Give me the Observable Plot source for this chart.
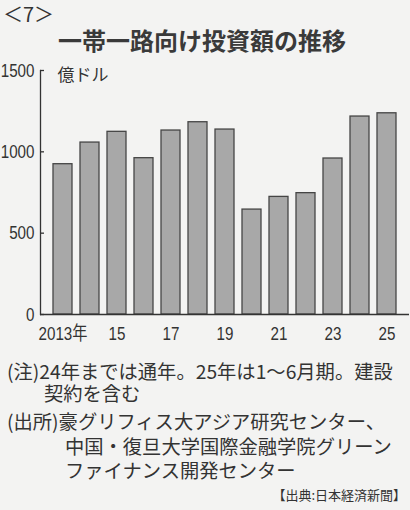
<!DOCTYPE html>
<html>
<head>
<meta charset="utf-8">
<script src="https://cdn.jsdelivr.net/npm/d3@7"></script>
<script src="https://cdn.jsdelivr.net/npm/@observablehq/plot@0.6"></script>
<style>
  html, body { margin: 0; padding: 0; }
  body { width: 410px; height: 510px; background: #f3f3f2; position: relative; overflow: hidden;
         font-family: "Noto Sans CJK JP", "Noto Sans", sans-serif; color: #333; }
  .abs { position: absolute; white-space: nowrap; }
  #num { left: 3px; top: 4px; font-size: 20px; line-height: 20px; }
  #title { left: 58px; top: 28px; font-size: 24px; line-height: 24px; font-weight: 700; color: #3a3a3a; }
  #chart { left: 0; top: 60px; }
  .note { font-size: 19.3px; left: 7px; }
  #note1 { top: 360px; line-height: 22px; padding-left: 37px; text-indent: -37px; }
  #note2 { top: 409px; line-height: 24.5px; padding-left: 58px; text-indent: -58px; }
  #credit { right: 4px; top: 488px; font-size: 13px; line-height: 13px; }
</style>
</head>
<body>
<div id="num" class="abs">＜7＞</div>
<div id="title" class="abs"></div>
<div id="chart" class="abs"></div>
<div id="note1" class="abs note"></div>
<div id="note2" class="abs note"></div>
<div id="credit" class="abs"></div>
<script>
// ---- data ----
const years = [2013, 2014, 2015, 2016, 2017, 2018, 2019, 2020, 2021, 2022, 2023, 2024, 2025];
const values = [924, 1057, 1123, 961, 1131, 1182, 1137, 645, 723, 746, 959, 1217, 1237];
const xTickYears = [2013, 2015, 2017, 2019, 2021, 2023, 2025];
const xTickLabels = ["2013年", "15", "17", "19", "21", "23", "25"];
const yTicks = [0, 500, 1000, 1500];
const yTickLabels = ["0", "500", "1000", "1500"];
const unitLabel = "億ドル";
const titleText = "一帯一路向け投資額の推移";
const noteLines = ["(注)24年までは通年。25年は1～6月期。建設", "契約を含む"];
const sourceLines = ["(出所)豪グリフィス大アジア研究センター、", "中国・復旦大学国際金融学院グリーン", "ファイナンス開発センター"];
const creditText = "【出典:日本経済新聞】";

document.getElementById("title").textContent = titleText;
document.getElementById("credit").textContent = creditText;

function fillLines(el, lines) {
  lines.forEach((t, i) => {
    if (i > 0) el.appendChild(document.createElement("br"));
    el.appendChild(document.createTextNode(t));
  });
}
fillLines(document.getElementById("note1"), noteLines);
fillLines(document.getElementById("note2"), sourceLines);

const data = years.map((y, i) => ({year: y, value: values[i]}));
const tickFont = "'Liberation Sans', 'Noto Sans CJK JP', sans-serif";

const chart = Plot.plot({
  width: 410,
  height: 285,
  marginTop: 10,
  marginBottom: 31,
  marginLeft: 40,
  marginRight: 1,
  style: {background: "transparent", fontFamily: tickFont, fontSize: "19px", color: "#333", overflow: "visible"},
  x: {type: "band", domain: years, padding: 0.31, label: null},
  y: {domain: [0, 1500], label: null},
  marks: [
    Plot.barY(data, {x: "year", y: "value", fill: "#a8a8a8", stroke: "#454545", strokeWidth: 1.3}),
    Plot.frame({anchor: "left", stroke: "#333", strokeWidth: 1.3}),
    Plot.ruleY([0], {stroke: "#333", strokeWidth: 1.3}),
    Plot.axisX({ticks: xTickYears, tickFormat: d => xTickLabels[xTickYears.indexOf(d)], tickSize: 0, tickPadding: 12, label: null, fontSize: 19}),
    Plot.axisY({ticks: yTicks, tickFormat: d => yTickLabels[yTicks.indexOf(d)], tickSize: -4, tickPadding: 10, label: null, fontSize: 19, stroke: "#333", strokeWidth: 1.3}),
    Plot.text([unitLabel], {frameAnchor: "top-left", dx: 17, dy: -2, textAnchor: "start", lineAnchor: "top",
      fontSize: 17, fontFamily: "'Noto Sans CJK JP', sans-serif", fill: "#333"})
  ]
});
// condense the tick label glyphs horizontally (newspaper-style narrow digits)
chart.querySelectorAll('g[aria-label="y-axis tick label"] text, g[aria-label="x-axis tick label"] text').forEach(t => {
  t.setAttribute("transform", (t.getAttribute("transform") || "") + " scale(0.8,1)");
});
document.getElementById("chart").appendChild(chart);
</script>
</body>
</html>
